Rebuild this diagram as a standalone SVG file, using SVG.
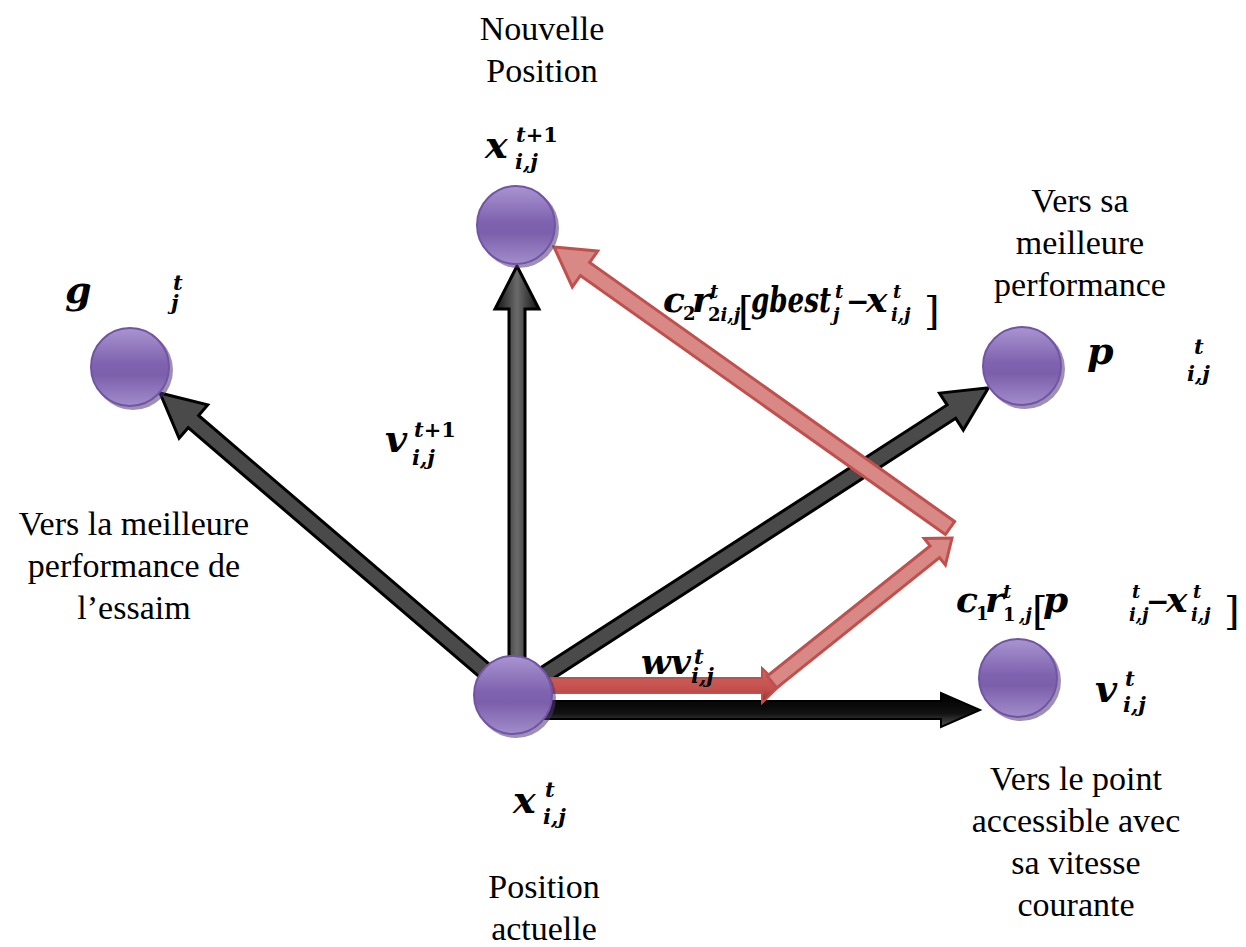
<svg xmlns="http://www.w3.org/2000/svg" width="1246" height="947" viewBox="0 0 1246 947">
<defs>
<linearGradient id="ball" x1="0" y1="0" x2="0" y2="1">
<stop offset="0" stop-color="#a995d0"/>
<stop offset="0.45" stop-color="#8063b0"/>
<stop offset="0.6" stop-color="#7c5fab"/>
<stop offset="1" stop-color="#a28dcb"/>
</linearGradient>
<linearGradient id="vgrad" x1="0" y1="0" x2="1" y2="0">
<stop offset="0" stop-color="#111"/>
<stop offset="0.5" stop-color="#6a6a6a"/>
<stop offset="1" stop-color="#111"/>
</linearGradient>
<linearGradient id="hgrad" x1="0" y1="0" x2="0" y2="1">
<stop offset="0" stop-color="#000"/>
<stop offset="0.6" stop-color="#111"/>
<stop offset="1" stop-color="#555"/>
</linearGradient>
<linearGradient id="rgrad" x1="0" y1="0" x2="0" y2="1">
<stop offset="0" stop-color="#cf6461"/>
<stop offset="0.6" stop-color="#c4504d"/>
<stop offset="1" stop-color="#8e2f2c"/>
</linearGradient>
</defs>
<style>
.lbl{font-family:"Liberation Serif","Times New Roman",serif;font-size:34px;fill:#000;text-anchor:middle}
.m{font-family:"DejaVu Serif",serif;font-weight:bold;font-style:italic;font-size:36px;fill:#000}
.big{font-size:38px}
.s{font-size:21px}
.fs{font-size:18px}
.u{font-style:normal}
.mi{font-size:28px;font-style:normal}
.br{font-size:40px;font-weight:normal;font-style:normal}
.ball{fill:url(#ball);stroke:#7353a6;stroke-width:2}
.shadow{fill:#4d3670;opacity:0.55}
.blk{fill:#4a4a4a;stroke:#000;stroke-width:3;stroke-linejoin:miter}
.red{fill:#d88885;stroke:#c0504d;stroke-width:3;stroke-linejoin:miter}
</style>
<rect width="1246" height="947" fill="#fff"/>

<g id="connectors">
<polygon class="blk" points="518.2,688.9 198.6,415.5 207.7,404.9 160,393 179.1,438.3 188.2,427.7 507.8,701.1"/>
<polygon class="blk" points="517.3,701.7 955.7,418.3 963.3,430.1 988.4,387.7 939.5,393.1 947.1,404.9 508.7,688.3"/>
<polygon points="509,660 509,309 495,309 517,266 539,309 525,309 525,660" fill="url(#vgrad)" stroke="#000" stroke-width="3"/>
<polygon points="540,701 941,701 941,693 980,710 941,727 941,719 540,719" fill="url(#hgrad)" stroke="#000" stroke-width="2"/>
<polygon points="548,678 762,678 762,668 780,685.5 762,703 762,693 548,693" fill="url(#rgrad)" stroke="#c0504d" stroke-width="2"/>
<polygon class="red" points="776.7,687.9 939.5,557.6 945.4,565.0 952,538 924.2,538.5 930.1,545.9 767.3,676.1"/>
<polygon class="red" points="954.6,521.5 589.6,262.5 597.7,251.1 554,247 572.3,286.9 580.4,275.5 945.4,534.5"/>
</g>

<g id="node-new">
<circle class="shadow" cx="519" cy="228" r="40"/>
<circle class="ball" cx="516" cy="225" r="39"/>
<text class="lbl" x="542" y="40">Nouvelle</text>
<text class="lbl" x="542" y="82">Position</text>
<text class="m"><tspan class="big" x="485" y="158">x</tspan><tspan class="s" x="516" y="142">t<tspan class="u">+1</tspan></tspan><tspan class="s" x="515" y="169">i,j</tspan></text>
</g>

<g id="node-gbest">
<circle class="shadow" cx="133" cy="370" r="40"/>
<circle class="ball" cx="130" cy="367" r="39"/>
<text class="m"><tspan class="big" x="65" y="303">g</tspan><tspan class="s" x="173" y="290">t</tspan><tspan class="s" x="171" y="310">j</tspan></text>
<text class="lbl" x="134" y="535">Vers la meilleure</text>
<text class="lbl" x="134" y="577">performance de</text>
<text class="lbl" x="134" y="619">l’essaim</text>
</g>

<g id="node-pbest">
<circle class="shadow" cx="1025" cy="369" r="40"/>
<circle class="ball" cx="1022" cy="366" r="39"/>
<text class="m"><tspan class="big" x="1087" y="364">p</tspan><tspan class="s" x="1194" y="354">t</tspan><tspan class="s" x="1187" y="381">i,j</tspan></text>
<text class="lbl" x="1080" y="212">Vers sa</text>
<text class="lbl" x="1080" y="254">meilleure</text>
<text class="lbl" x="1080" y="296">performance</text>
</g>

<g id="node-current">
<circle class="shadow" cx="516" cy="698" r="40"/>
<circle class="ball" cx="513" cy="695" r="39"/>
<text class="m"><tspan class="big" x="513" y="813">x</tspan><tspan class="s" x="545" y="797">t</tspan><tspan class="s" x="543" y="824">i,j</tspan></text>
<text class="lbl" x="544" y="898">Position</text>
<text class="lbl" x="544" y="940">actuelle</text>
</g>

<g id="node-velocity">
<circle class="shadow" cx="1021" cy="681" r="40"/>
<circle class="ball" cx="1018" cy="678" r="39"/>
<text class="m"><tspan class="big" x="1095" y="702">v</tspan><tspan class="s" x="1125" y="686">t</tspan><tspan class="s" x="1123" y="712">i,j</tspan></text>
<text class="lbl" x="1076" y="790">Vers le point</text>
<text class="lbl" x="1076" y="832">accessible avec</text>
<text class="lbl" x="1076" y="874">sa vitesse</text>
<text class="lbl" x="1076" y="916">courante</text>
</g>

<g id="label-vnew">
<text class="m"><tspan class="big" x="385" y="452">v</tspan><tspan class="s" x="414" y="437">t<tspan class="u">+1</tspan></tspan><tspan class="s" x="412" y="465">i,j</tspan></text>
</g>

<g id="label-wv">
<text class="m"><tspan x="641" y="674" textLength="50" lengthAdjust="spacingAndGlyphs">wv</tspan><tspan class="s" x="694" y="664">t</tspan><tspan class="s" x="691" y="683">i,j</tspan></text>
</g>

<g id="label-c2">
<text class="m"><tspan x="663" y="312">c</tspan><tspan class="fs u" x="683" y="320">2</tspan><tspan x="692" y="312">r</tspan><tspan class="fs" x="710" y="298">t</tspan><tspan class="fs" x="708" y="321"><tspan class="u">2</tspan>i,j</tspan><tspan class="br" x="738" y="324">[</tspan><tspan x="751" y="312" textLength="80" lengthAdjust="spacingAndGlyphs">gbest</tspan><tspan class="fs" x="835" y="298">t</tspan><tspan class="fs" x="833" y="321">j</tspan><tspan class="mi" x="846" y="311">−</tspan><tspan x="866" y="312">x</tspan><tspan class="fs" x="893" y="298">t</tspan><tspan class="fs" x="891" y="321">i,j</tspan><tspan class="br" x="924" y="324">]</tspan></text>
</g>

<g id="label-c1">
<text class="m"><tspan x="956" y="612">c</tspan><tspan class="fs u" x="976" y="620">1</tspan><tspan x="985" y="612">r</tspan><tspan class="fs" x="1003" y="598">t</tspan><tspan class="fs u" x="1003" y="621">1</tspan><tspan class="fs" x="1019" y="621">,j</tspan><tspan class="br" x="1032" y="624">[</tspan><tspan x="1043" y="612">p</tspan><tspan class="fs" x="1132" y="598">t</tspan><tspan class="fs" x="1129" y="621">i,j</tspan><tspan class="mi" x="1146" y="611">−</tspan><tspan x="1166" y="612">x</tspan><tspan class="fs" x="1193" y="598">t</tspan><tspan class="fs" x="1191" y="621">i,j</tspan><tspan class="br" x="1224" y="624">]</tspan></text>
</g>
</svg>
